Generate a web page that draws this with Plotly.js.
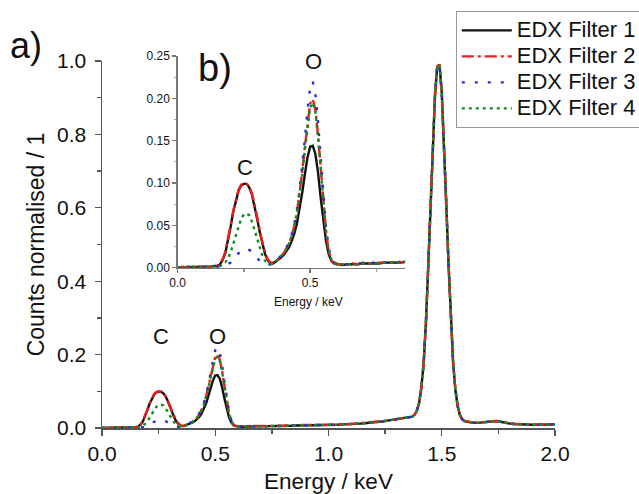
<!DOCTYPE html>
<html>
<head>
<meta charset="utf-8">
<script src="https://cdn.plot.ly/plotly-3.0.1.min.js"></script>
<style>html,body{margin:0;padding:0;background:#fff;}#chart{width:639px;height:494px;}</style>
</head>
<body>
<div id="chart"></div>
<script>
// Energy grid (keV)
const energy = [
  0.00,0.02,0.04,0.06,0.08,0.10,0.12,0.14,
  0.15,0.16,0.17,0.18,0.19,0.20,0.21,0.22,0.23,0.24,0.25,0.26,0.27,0.28,0.29,0.30,0.31,0.32,0.33,0.34,0.35,0.36,0.37,0.38,0.39,0.40,0.41,0.42,0.43,0.44,0.45,0.46,0.47,0.48,0.49,0.50,0.51,0.52,0.53,0.54,0.55,0.56,0.57,0.58,0.59,0.60,0.61,0.62,
  0.64,0.66,0.68,0.70,0.72,0.74,0.76,0.78,0.80,0.82,0.84,0.86,0.88,0.90,0.92,0.94,0.96,0.98,1.00,1.02,1.04,1.06,1.08,1.10,1.12,1.14,1.16,1.18,1.20,1.22,1.24,1.26,1.28,1.30,1.32,1.34,1.36,
  1.37,1.38,1.39,1.40,1.41,1.42,1.43,1.44,1.45,1.46,1.47,1.48,1.49,1.50,1.51,1.52,1.53,1.54,1.55,1.56,1.57,1.58,1.59,1.60,
  1.62,1.64,1.66,1.68,1.70,1.72,1.74,1.76,1.78,1.80,1.82,1.84,1.86,1.88,1.90,1.92,1.94,1.96,1.98,2.00
];

const filter1 = [
  0.000,0.000,0.001,0.000,0.001,0.001,0.001,0.002,
  0.002,0.004,0.009,0.017,0.031,0.048,0.066,0.080,0.091,0.097,0.099,0.099,0.095,0.087,0.074,0.058,0.042,0.027,0.016,0.009,0.005,0.005,0.007,0.009,0.012,0.015,0.019,0.024,0.031,0.040,0.052,0.068,0.088,0.110,0.130,0.143,0.144,0.134,0.112,0.082,0.054,0.031,0.016,0.008,0.005,0.004,0.004,0.003,
  0.004,0.004,0.004,0.005,0.005,0.005,0.005,0.006,0.006,0.006,0.006,0.007,0.007,0.007,0.007,0.008,0.008,0.008,0.008,0.009,0.009,0.010,0.010,0.011,0.011,0.012,0.013,0.014,0.015,0.016,0.018,0.020,0.022,0.024,0.026,0.027,0.029,
  0.031,0.036,0.047,0.068,0.110,0.175,0.285,0.435,0.605,0.765,0.905,0.985,0.990,0.915,0.775,0.610,0.445,0.290,0.180,0.105,0.060,0.035,0.024,0.019,
  0.016,0.014,0.014,0.015,0.017,0.019,0.019,0.017,0.014,0.012,0.011,0.010,0.010,0.009,0.009,0.009,0.009,0.010,0.010,0.010
];

const filter2 = [
  0.000,0.001,0.000,0.001,0.001,0.000,0.001,0.002,
  0.002,0.005,0.010,0.019,0.033,0.050,0.067,0.081,0.092,0.098,0.100,0.099,0.096,0.088,0.076,0.060,0.044,0.029,0.018,0.010,0.006,0.006,0.008,0.010,0.013,0.017,0.022,0.028,0.037,0.049,0.065,0.087,0.113,0.142,0.172,0.194,0.199,0.186,0.156,0.115,0.075,0.042,0.020,0.009,0.005,0.005,0.004,0.004,
  0.004,0.005,0.004,0.006,0.005,0.005,0.006,0.006,0.006,0.007,0.006,0.007,0.008,0.007,0.008,0.008,0.008,0.009,0.008,0.009,0.010,0.010,0.010,0.011,0.012,0.012,0.013,0.014,0.015,0.017,0.018,0.020,0.022,0.024,0.026,0.028,0.029,
  0.031,0.036,0.047,0.069,0.111,0.176,0.286,0.436,0.606,0.766,0.905,0.985,0.990,0.914,0.774,0.609,0.444,0.290,0.181,0.106,0.061,0.036,0.025,0.019,
  0.016,0.015,0.014,0.015,0.017,0.018,0.019,0.017,0.015,0.012,0.011,0.011,0.010,0.009,0.010,0.009,0.009,0.010,0.011,0.010
];

const filter3 = [
  0.000,0.000,0.000,0.001,0.000,0.001,0.001,0.001,
  0.001,0.001,0.002,0.002,0.004,0.006,0.010,0.014,0.017,0.020,0.022,0.022,0.021,0.019,0.015,0.012,0.008,0.006,0.004,0.003,0.004,0.005,0.007,0.010,0.014,0.018,0.023,0.030,0.039,0.051,0.068,0.091,0.119,0.152,0.186,0.212,0.220,0.205,0.171,0.126,0.083,0.047,0.023,0.011,0.006,0.005,0.004,0.004,
  0.004,0.004,0.005,0.005,0.005,0.006,0.005,0.006,0.006,0.006,0.007,0.007,0.007,0.008,0.007,0.008,0.008,0.008,0.009,0.009,0.009,0.010,0.010,0.011,0.011,0.012,0.013,0.014,0.015,0.016,0.018,0.020,0.022,0.024,0.026,0.027,0.029,
  0.031,0.036,0.047,0.068,0.110,0.175,0.285,0.435,0.605,0.765,0.905,0.985,0.990,0.915,0.775,0.610,0.445,0.290,0.180,0.105,0.060,0.035,0.024,0.018,
  0.015,0.014,0.014,0.015,0.016,0.018,0.019,0.017,0.014,0.012,0.011,0.010,0.010,0.010,0.009,0.009,0.009,0.009,0.010,0.010
];

const filter4 = [
  0.000,0.000,0.001,0.001,0.000,0.001,0.001,0.001,
  0.001,0.002,0.003,0.006,0.011,0.018,0.028,0.039,0.050,0.058,0.063,0.064,0.062,0.055,0.045,0.034,0.023,0.014,0.008,0.005,0.004,0.005,0.007,0.010,0.013,0.017,0.022,0.028,0.037,0.048,0.064,0.085,0.110,0.139,0.168,0.189,0.195,0.183,0.154,0.114,0.075,0.043,0.021,0.010,0.006,0.004,0.004,0.004,
  0.004,0.004,0.004,0.005,0.005,0.005,0.005,0.006,0.006,0.006,0.006,0.007,0.007,0.007,0.008,0.008,0.008,0.008,0.008,0.009,0.009,0.010,0.010,0.011,0.011,0.012,0.013,0.014,0.015,0.016,0.018,0.020,0.022,0.024,0.026,0.027,0.029,
  0.031,0.036,0.047,0.068,0.110,0.175,0.285,0.435,0.605,0.765,0.905,0.985,0.990,0.915,0.775,0.610,0.445,0.290,0.180,0.105,0.060,0.035,0.024,0.019,
  0.016,0.014,0.014,0.015,0.017,0.019,0.019,0.017,0.014,0.012,0.011,0.010,0.010,0.009,0.009,0.009,0.009,0.010,0.010,0.010
];

const seriesNames = ["EDX Filter 1","EDX Filter 2","EDX Filter 3","EDX Filter 4"];
const seriesData = [filter1, filter2, filter3, filter4];
const seriesColors = ["#111111","#ee1c1c","#2a2ad8","#118f1e"];
const seriesDash = ["solid","12px,4px,3px,4px","3px,10px","3px,4px"];

const mainTickLabelsX = ["0.0","0.5","1.0","1.5","2.0"];
const insetTickLabelsX = ["0.0","0.5"];

const FONT = "Liberation Sans, Arial, sans-serif";
const traces = [];
for (let i = 0; i < 4; i++) {
  traces.push({
    x: energy, y: seriesData[i], type: "scatter", mode: "lines",
    name: '<span style="font-size:22px">' + seriesNames[i] + '</span>',
    xaxis: "x", yaxis: "y",
    line: {color: seriesColors[i], width: 2.4, dash: seriesDash[i]},
    showlegend: true
  });
}
for (let i = 0; i < 4; i++) {
  traces.push({
    x: energy, y: seriesData[i], type: "scatter", mode: "lines",
    name: seriesNames[i], xaxis: "x2", yaxis: "y2",
    line: {color: seriesColors[i], width: 2.4, dash: seriesDash[i]},
    showlegend: false
  });
}

const axCommon = {
  showgrid: false, zeroline: false, showline: true,
  linecolor: "#555", linewidth: 1.5, ticks: "outside", tickcolor: "#555",
  tickwidth: 1.3, mirror: false
};

const layout = {
  width: 639, height: 494,
  margin: {l: 102, r: 84, t: 56, b: 66, autoexpand: false},
  paper_bgcolor: "#fff", plot_bgcolor: "rgba(0,0,0,0)",
  font: {family: FONT, color: "#111"},
  showlegend: true,
  legend: {
    x: 0.781, y: 1.12, xanchor: "left", yanchor: "top",
    bordercolor: "#999", borderwidth: 1, bgcolor: "#fff",
    font: {family: FONT, size: 17.7, color: "#111"},
    itemwidth: 50, tracegroupgap: 0
  },
  xaxis: Object.assign({}, axCommon, {
    domain: [0, 1], range: [0, 2.0], anchor: "y",
    tickvals: [0, 0.5, 1.0, 1.5, 2.0], ticktext: mainTickLabelsX,
    ticklen: 6,
    minor: {tickvals: [0.25, 0.75, 1.25, 1.75], ticks: "outside", ticklen: 4, tickcolor: "#555", showgrid: false},
    tickfont: {family: FONT, size: 21, color: "#111"},
    title: {text: "Energy / keV", font: {family: FONT, size: 22.5, color: "#111"}, standoff: 12}
  }),
  yaxis: Object.assign({}, axCommon, {
    domain: [0, 0.9866], range: [0, 1.0], anchor: "x",
    dtick: 0.2, tickformat: ".1f", ticklen: 6, ticklabelstandoff: 4,
    minor: {dtick: 0.1, ticks: "outside", ticklen: 4, tickcolor: "#555", showgrid: false},
    tickfont: {family: FONT, size: 21, color: "#111"},
    title: {text: "Counts normalised / 1", font: {family: FONT, size: 23, color: "#111"}, standoff: 6}
  }),
  xaxis2: Object.assign({}, axCommon, {
    domain: [0.1668, 0.669], range: [0, 0.858], anchor: "y2",
    tickvals: [0, 0.5], ticktext: insetTickLabelsX, ticklen: 4, linewidth: 1.2,
    linecolor: "#777", tickcolor: "#777",
    minor: {tickvals: [0.25, 0.75], ticks: "outside", ticklen: 3, tickcolor: "#999", showgrid: false},
    tickfont: {family: FONT, size: 12, color: "#111"}
  }),
  yaxis2: Object.assign({}, axCommon, {
    domain: [0.431, 1.0], range: [0, 0.25], anchor: "x2",
    dtick: 0.05, tickformat: ".2f", ticklen: 4, linewidth: 1.2,
    linecolor: "#777", tickcolor: "#777",
    minor: {dtick: 0.025, ticks: "outside", ticklen: 2, tickcolor: "#aaa", showgrid: false},
    tickfont: {family: FONT, size: 12, color: "#111"}
  }),
  annotations: [
    {text: "a)", xref: "paper", yref: "paper", x: -0.167, y: 1.027, xanchor: "center", yanchor: "middle", showarrow: false, font: {family: FONT, size: 36, color: "#111"}},
    {text: "b)", xref: "x2", yref: "y2", x: 0.142, y: 0.236, xanchor: "center", yanchor: "middle", showarrow: false, font: {family: FONT, size: 38, color: "#111"}},
    {text: "Energy / keV", xref: "x2", yref: "paper", x: 0.495, y: 0.3387, xanchor: "center", yanchor: "middle", showarrow: false, font: {family: FONT, size: 12, color: "#111"}},
    {text: "C", xref: "x", yref: "y", x: 0.26, y: 0.25, xanchor: "center", yanchor: "middle", showarrow: false, font: {family: FONT, size: 22, color: "#111"}},
    {text: "O", xref: "x", yref: "y", x: 0.51, y: 0.25, xanchor: "center", yanchor: "middle", showarrow: false, font: {family: FONT, size: 22, color: "#111"}},
    {text: "Al", xref: "x", yref: "y", x: 1.483, y: 1.054, xanchor: "center", yanchor: "middle", showarrow: false, font: {family: FONT, size: 22, color: "#111"}},
    {text: "C", xref: "x2", yref: "y2", x: 0.255, y: 0.118, xanchor: "center", yanchor: "middle", showarrow: false, font: {family: FONT, size: 22, color: "#111"}},
    {text: "O", xref: "x2", yref: "y2", x: 0.513, y: 0.243, xanchor: "center", yanchor: "middle", showarrow: false, font: {family: FONT, size: 22, color: "#111"}}
  ]
};

Plotly.newPlot("chart", traces, layout, {staticPlot: true, displayModeBar: false});
</script>
</body>
</html>
